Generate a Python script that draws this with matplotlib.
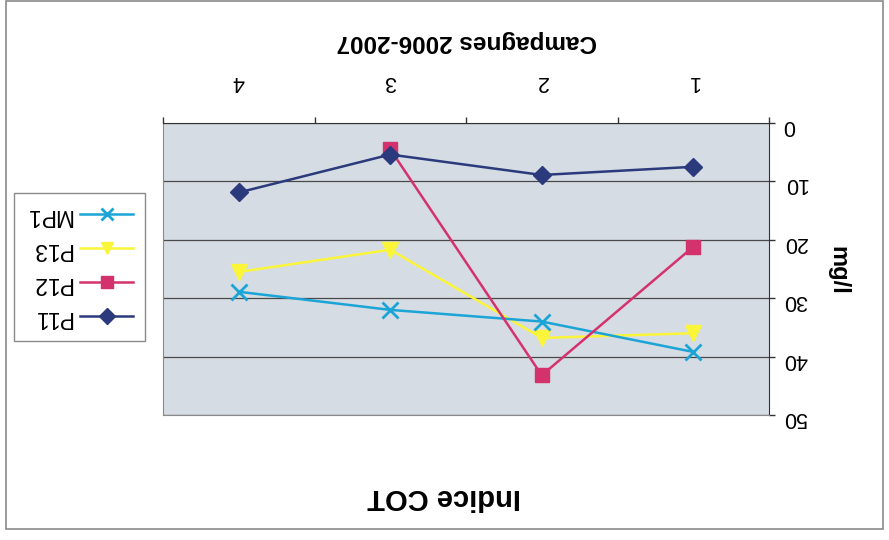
import matplotlib
matplotlib.use('Agg')
import numpy as np
from matplotlib import pyplot as plt
from matplotlib.patches import Rectangle

plt.rcParams['font.family'] = ['Liberation Sans', 'DejaVu Sans']

# data (picture is upside down, as in the scan)
campagnes = [1, 2, 3, 4]
p11 = [7.5, 8.9, 5.4, 11.9]
p12 = [21.2, 43.2, 4.5, np.nan]
p13 = [36.0, 36.8, 21.7, 25.5]
mp1 = [39.2, 34.0, 32.0, 28.9]
yticks = [0, 10, 20, 30, 40, 50]

W, H = 889, 540
fig = plt.figure(figsize=(W / 100, H / 100), dpi=100)
fig.patch.set_facecolor('white')

# chart frame
fig.add_artist(Rectangle((6 / W, 1 - 529 / H), 877 / W, 528 / H, transform=fig.transFigure,
                         fill=False, edgecolor='#8a8a8a', linewidth=1.2))

ax = fig.add_axes([163 / W, 1 - 415 / H, (769 - 163) / W, (415 - 123) / H])
ax.set_facecolor('#d6dce4')

l11, = ax.plot(campagnes, p11, color='#2b3a7c', lw=1.8, marker='D', ms=9, zorder=5)
l12, = ax.plot(campagnes, p12, color='#d4326c', lw=1.8, marker='s', ms=10, zorder=4)
l13, = ax.plot(campagnes, p13, color='#fbf53a', lw=1.8, marker='v', ms=11, zorder=3)
lmp, = ax.plot(campagnes, mp1, color='#1ba4d6', lw=1.8, marker='x', ms=11, mew=2, zorder=3)

ax.set_xlim(4.5, 0.5)
ax.set_ylim(50, 0)

ax.xaxis.tick_top()
ax.set_xticks([0.5, 1.5, 2.5, 3.5, 4.5])
ax.set_xticklabels([])
ax.set_xticks(campagnes, minor=True)
ax.set_xticklabels([str(c) for c in campagnes], minor=True, rotation=180, fontsize=15.5)
ax.tick_params(axis='x', which='major', direction='out', length=4, width=1, color='#333333')
ax.tick_params(axis='x', which='minor', length=0, pad=22, top=True, bottom=False)

ax.yaxis.tick_right()
ax.set_yticks(yticks)
ax.set_yticklabels([str(v) for v in yticks], rotation=180, fontsize=15.5)
ax.tick_params(axis='y', direction='out', length=4, width=1, color='#333333', pad=6)

ax.grid(axis='y', color='#4a4a4a', lw=0.9)
ax.set_axisbelow(True)
for s in ['left', 'bottom']:
    ax.spines[s].set_color('#8a8a8a')
for s in ['top', 'right']:
    ax.spines[s].set_color('#333333')

fig.text(444 / W, 1 - 497 / H, 'Indice COT', rotation=180, ha='center', va='center',
         fontsize=21, fontweight='bold')
fig.text(467 / W, 1 - 41 / H, 'Campagnes 2006-2007', rotation=180, ha='center', va='center',
         fontsize=17.5, fontweight='bold')
fig.text(838 / W, 1 - 270 / H, 'mg/l', rotation=270, ha='center', va='center',
         fontsize=17, fontweight='bold')

leg = fig.legend([lmp, l13, l12, l11], ['MP1', 'P13', 'P12', 'P11'],
                 loc='upper left', bbox_to_anchor=(14 / W, 1 - 193 / H), borderaxespad=0,
                 markerfirst=False, fancybox=False, framealpha=1, edgecolor='#8a8a8a',
                 fontsize=16.5, handlelength=2.3, labelspacing=0.48, handletextpad=0.35,
                 borderpad=0.5)
leg.get_frame().set_linewidth(1)
for t in leg.get_texts():
    t.set_rotation(180)
for h in leg.legend_handles:
    h.set_markersize(h.get_markersize() * 0.85)

fig.savefig('out.png', dpi=100)
